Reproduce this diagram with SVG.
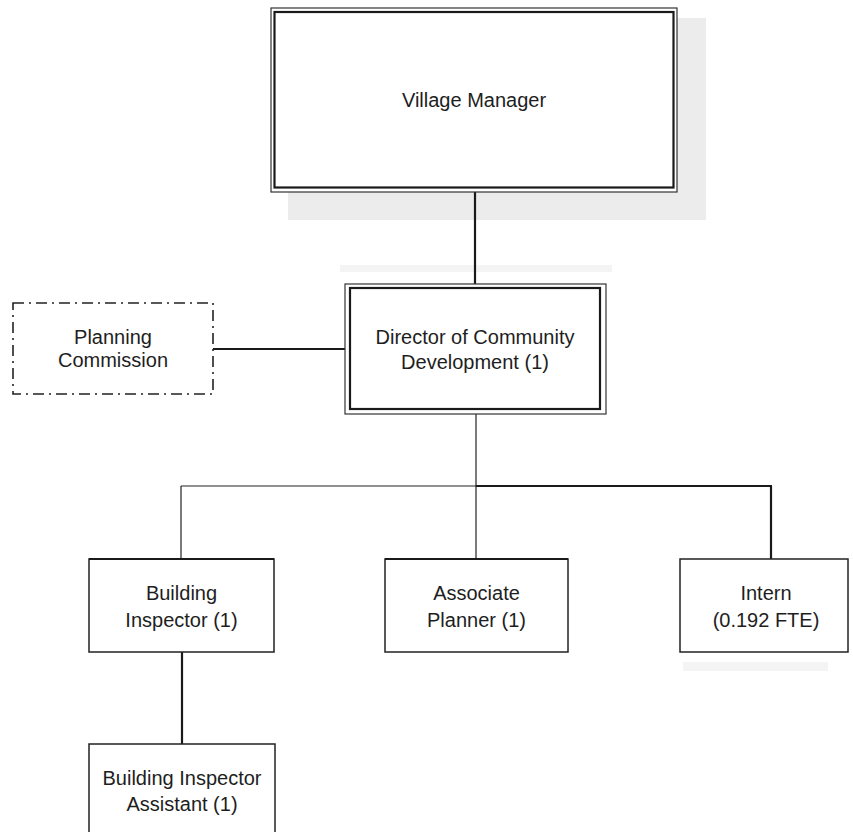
<svg xmlns="http://www.w3.org/2000/svg" width="853" height="832" viewBox="0 0 853 832">
  <style>
    .lbl { font-family: "Liberation Sans", Arial, sans-serif; font-size: 20px; fill: #1e1e1e; text-anchor: middle; }
    .box { fill: #ffffff; stroke: #222222; stroke-width: 1.5; }
    .outer { fill: #ffffff; stroke: #333333; stroke-width: 1.2; }
    .inner { fill: none; stroke: #1a1a1a; stroke-width: 2.2; }
    .dashbox { fill: #ffffff; stroke: #222222; stroke-width: 1.6; stroke-dasharray: 11 5 2 5; }
    .thin { stroke: #222222; stroke-width: 1.2; fill: none; }
    .thick { stroke: #1a1a1a; stroke-width: 2.2; fill: none; }
    .shadow { fill: #ececec; }
  </style>
  <rect width="853" height="832" fill="#ffffff"/>

  <!-- scan shadows -->
  <g id="shadows">
    <path class="shadow" d="M677 18 H706 V220 H288 V192 H677 Z"/>
    <rect x="340" y="265" width="272" height="7" fill="#f4f4f4"/>
    <rect x="683" y="662" width="145" height="9" fill="#f4f4f4"/>
  </g>

  <!-- connectors -->
  <g id="connectors">
    <line class="thick" x1="475" y1="192" x2="475" y2="284"/>
    <line class="thick" x1="213" y1="349" x2="345" y2="349"/>
    <line class="thin" x1="476" y1="414" x2="476" y2="486"/>
    <line class="thin" x1="181" y1="486" x2="476" y2="486"/>
    <line class="thick" x1="476" y1="486" x2="772" y2="486"/>
    <line class="thin" x1="181" y1="486" x2="181" y2="559"/>
    <line class="thin" x1="476" y1="486" x2="476" y2="559"/>
    <line class="thick" x1="771" y1="486" x2="771" y2="559"/>
    <line class="thick" x1="182" y1="652" x2="182" y2="744"/>
  </g>

  <g id="village-manager">
    <rect class="outer" x="271" y="8" width="406" height="184"/>
    <rect class="inner" x="274.5" y="12" width="399" height="175.5"/>
    <text class="lbl" x="474" y="107">Village Manager</text>
  </g>

  <g id="director">
    <rect class="outer" x="345" y="284" width="261" height="130"/>
    <rect class="inner" x="350" y="288" width="250" height="121"/>
    <text class="lbl" x="475" y="344">Director of Community</text>
    <text class="lbl" x="475" y="369">Development (1)</text>
  </g>

  <g id="planning-commission">
    <rect class="dashbox" x="13" y="303" width="200" height="91"/>
    <text class="lbl" x="113" y="344">Planning</text>
    <text class="lbl" x="113" y="367">Commission</text>
  </g>

  <g id="building-inspector">
    <rect class="box" x="89" y="559" width="185" height="93"/>
    <line class="thick" x1="89" y1="559" x2="274" y2="559"/>
    <text class="lbl" x="181.5" y="600">Building</text>
    <text class="lbl" x="181.5" y="627">Inspector (1)</text>
  </g>

  <g id="associate-planner">
    <rect class="box" x="385" y="559" width="183" height="93"/>
    <line class="thick" x1="385" y1="559" x2="568" y2="559"/>
    <text class="lbl" x="476.5" y="600">Associate</text>
    <text class="lbl" x="476.5" y="627">Planner (1)</text>
  </g>

  <g id="intern">
    <rect class="box" x="680" y="559" width="168" height="93"/>
    <text class="lbl" x="766" y="600">Intern</text>
    <text class="lbl" x="766" y="627">(0.192 FTE)</text>
  </g>

  <g id="building-inspector-assistant">
    <rect class="box" x="89" y="744" width="186" height="100"/>
    <text class="lbl" x="182" y="785">Building Inspector</text>
    <text class="lbl" x="182" y="811">Assistant (1)</text>
  </g>
</svg>
